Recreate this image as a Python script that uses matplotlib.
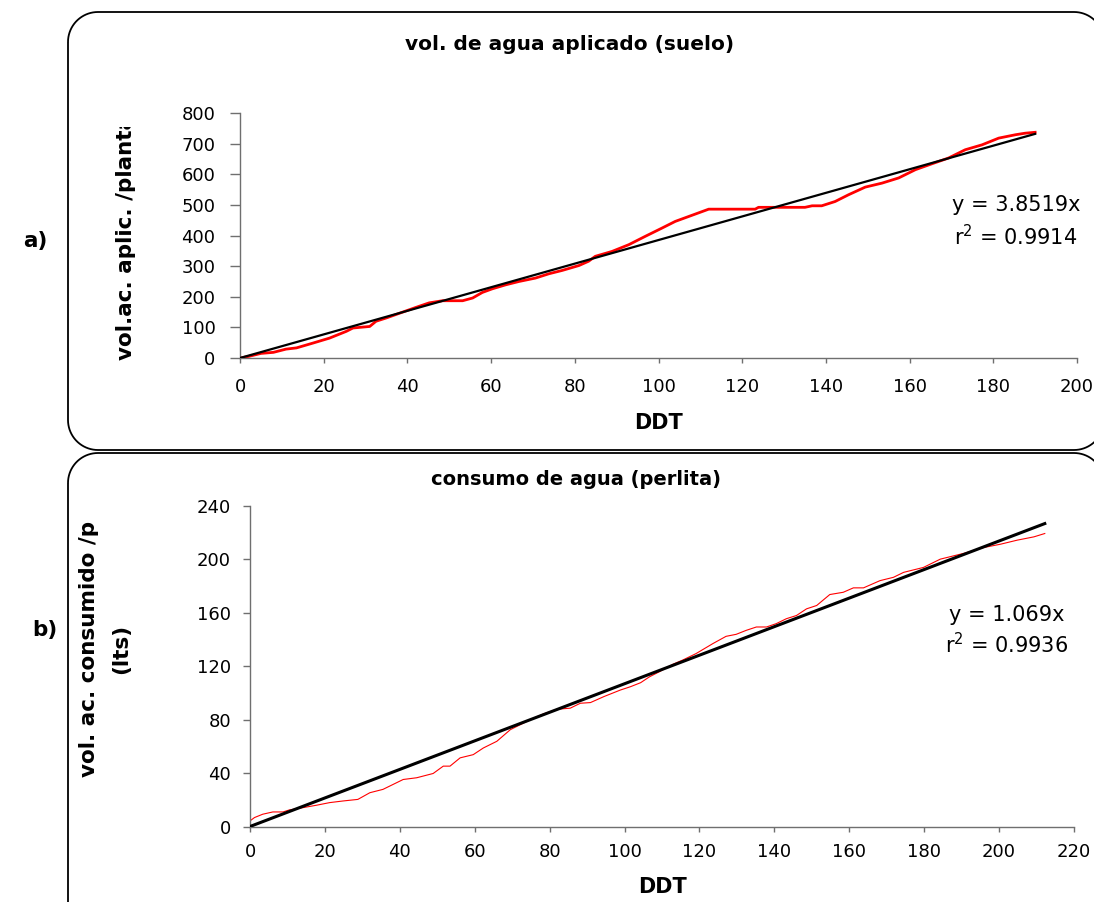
import matplotlib
matplotlib.use("Agg")
import matplotlib.pyplot as plt
from matplotlib.patches import PathPatch
from matplotlib.path import Path
from matplotlib.transforms import Affine2D, Bbox
import numpy as np

# ---- data -------------------------------------------------------------
# a) cumulative water applied per plant (soil), by days after transplant
ddt_suelo = [0, 2, 5, 8, 11, 13.5, 17.5, 21.4, 25.4, 27, 31, 32.5, 35, 38.9, 42,
             45.2, 48.4, 53.2, 55.6, 57.9, 60.3, 63.5, 66.7, 70.6, 73.8, 77, 81,
             83.3, 84.9, 88.9, 92.9, 96.8, 100.8, 104, 107.2, 112, 123.1, 123.9,
             135, 136.7, 139, 142.2, 145.4, 149.4, 153.4, 157.4, 161.4, 165.3,
             169.3, 173.3, 177.3, 181.3, 185.3, 187.6, 190]
vol_suelo = [0, 5, 15, 18.5, 29, 33, 49, 65, 87, 98, 103, 120, 131, 150, 165,
             180, 187, 187, 196, 214, 226, 239, 250, 261, 275, 286, 302,
             316, 332, 348, 370, 397, 424, 446, 462, 486, 486, 492,
             492, 497, 497, 511, 533, 558, 571, 588, 615, 634,
             653, 680, 696, 718, 729, 734, 737]
pend_suelo = 3.8519
r2_suelo = 0.9914

# b) cumulative water consumption per plant (perlite)
ddt_perlita = [0, 1.2, 3.4, 6.1, 8.8, 10.5, 14.1, 17.7, 21.3, 24.8, 28.8, 32.0,
               35.5, 38.2, 40.9, 44.5, 48.9, 51.6, 53.4, 56.1, 59.6, 62.3, 65.9,
               69.5, 73.0, 74.8, 78.4, 82.0, 85.5, 88.2, 90.9, 94.5, 98.9, 101.6,
               104.3, 106.6, 109.3, 112.9, 115.5, 119.1, 123.6, 127.1, 129.8,
               132.5, 135.2, 137.9, 140.5, 143.2, 145.9, 148.6, 151.3, 154.8,
               158.4, 161.1, 163.8, 168.2, 171.8, 174.5, 179.8, 184.3, 190.5,
               195.9, 200.4, 204.8, 209.3, 212.2]
vol_perlita = [4.2, 6.7, 9.2, 10.9, 10.9, 12.4, 14.1, 15.9, 17.9, 19.1, 20.3, 25.3,
               27.8, 31.5, 35.2, 36.5, 39.7, 45.2, 45.2, 51.4, 53.8, 58.8, 63.8,
               72.5, 77.4, 79.9, 84.4, 87.8, 88.6, 92.3, 92.8, 97.3, 102.2, 104.7,
               107.7, 112.0, 115.9, 121.5, 124.6, 129.5, 137.0, 142.4, 143.9,
               146.9, 149.4, 149.4, 151.9, 155.6, 158.0, 163.0, 165.5, 173.7,
               175.4, 178.7, 178.7, 184.1, 186.6, 190.3, 194.0, 200.2, 204.5,
               208.9, 211.4, 214.4, 216.9, 219.4]
pend_perlita = 1.069
r2_perlita = 0.9936

xticks_a = list(range(0, 201, 20))
yticks_a = list(range(0, 801, 100))
xticks_b = list(range(0, 221, 20))
yticks_b = list(range(0, 241, 40))

# ---- figure -----------------------------------------------------------
W, H = 1094, 902
plt.rcParams['font.family'] = ['DejaVu Sans']
fig = plt.figure(figsize=(W / 100, H / 100), dpi=100)

# pixel coordinates measured from the top-left corner
pix = Affine2D().scale(1, -1).translate(0, H)


def ax_rect(left, top, right, bottom):
    return [left / W, 1 - bottom / H, (right - left) / W, (bottom - top) / H]


def rounded_frame(x0, y0, x1, y1, r):
    """Closed outline of a rectangle with circular corners (pixel units)."""
    t = np.linspace(0, np.pi / 2, 20)
    pts = []
    # top-left, top-right, bottom-right, bottom-left corners (y grows downward)
    for cx, cy, a0 in [(x0 + r, y0 + r, np.pi), (x1 - r, y0 + r, 1.5 * np.pi),
                       (x1 - r, y1 - r, 0.0), (x0 + r, y1 - r, 0.5 * np.pi)]:
        a = a0 + t
        pts.extend(zip(cx + r * np.cos(a), cy + r * np.sin(a)))
    pts.append(pts[0])
    return Path(np.array(pts))


def style_axes(ax, ylen, ypad, xpad, fs):
    for s in ('top', 'right'):
        ax.spines[s].set_visible(False)
    for s in ('left', 'bottom'):
        ax.spines[s].set_color('#6f6f6f')
        ax.spines[s].set_linewidth(1.0)
    ax.tick_params(axis='y', direction='out', length=ylen, width=1.0,
                   color='#6f6f6f', pad=ypad, labelsize=fs)
    ax.tick_params(axis='x', direction='out', length=3.6, width=1.0,
                   color='#6f6f6f', pad=xpad, labelsize=fs)


# rounded frames around each chart
for (x0, y0, x1, y1) in [(68, 12, 1104, 450), (68, 453, 1104, 935)]:
    fig.patches.append(PathPatch(rounded_frame(x0, y0, x1, y1, 30),
                                 transform=pix, fill=False, ec='black',
                                 lw=1.3, clip_on=False))

# ---- panel a ----------------------------------------------------------
axa = fig.add_axes(ax_rect(240, 113, 1077, 358))
axa.plot(ddt_suelo, vol_suelo, color='#ff0000', lw=2.0, zorder=2)
xa = np.array([0, ddt_suelo[-1]])
axa.plot(xa, pend_suelo * xa, color='black', lw=1.6, zorder=3)
axa.set_xlim(0, 200)
axa.set_ylim(0, 800)
axa.set_xticks(xticks_a)
axa.set_yticks(yticks_a)
style_axes(axa, 7.2, 10.5, 10.5, 13)
for lbl in axa.get_xticklabels() + axa.get_yticklabels():
    lbl.set_clip_on(False)

fig.text(570 / W, 1 - 45 / H, 'vol. de agua aplicado (suelo)',
         ha='center', va='center', fontsize=14.5, fontweight='bold')
fig.text(658 / W, 1 - 423 / H, 'DDT', ha='center', va='center',
         fontsize=15, fontweight='bold')
ylab_a = fig.text(126 / W, 1 - 360 / H, 'vol.ac. aplic. /planta', rotation=90,
                  ha='center', va='bottom', fontsize=15.5, fontweight='bold')
ylab_a.set_clip_box(Bbox.from_extents(0, 0, W, H - 127))
ylab_a.set_clip_on(True)
fig.text(1016 / W, 1 - 205 / H, f'y = {pend_suelo}x', ha='center', va='center',
         fontsize=15)
fig.text(1016 / W, 1 - 237 / H, f'r$^{{2}}$ = {r2_suelo}', ha='center',
         va='center', fontsize=15)
fig.text(35 / W, 1 - 241 / H, 'a)', ha='center', va='center', fontsize=15.5,
         fontweight='bold')

# ---- panel b ----------------------------------------------------------
axb = fig.add_axes(ax_rect(250, 506, 1074, 826.5))
axb.plot(ddt_perlita, vol_perlita, color='#ff0000', lw=0.8, zorder=2)
xb = np.array([0, ddt_perlita[-1]])
axb.plot(xb, pend_perlita * xb, color='black', lw=2.2, zorder=3)
axb.set_xlim(0, 220)
axb.set_ylim(0, 240)
axb.set_xticks(xticks_b)
axb.set_yticks(yticks_b)
style_axes(axb, 5.2, 8.5, 8.0, 13)

fig.text(576 / W, 1 - 480 / H, 'consumo de agua (perlita)',
         ha='center', va='center', fontsize=14, fontweight='bold')
fig.text(662 / W, 1 - 887 / H, 'DDT', ha='center', va='center',
         fontsize=15, fontweight='bold')
fig.text(105 / W, 1 - 649 / H, 'vol. ac. consumido /p\n(lts)', rotation=90,
         ha='center', va='center', ma='center', fontsize=15.5,
         fontweight='bold', linespacing=1.75)
fig.text(1007 / W, 1 - 615 / H, f'y = {pend_perlita}x', ha='center',
         va='center', fontsize=15)
fig.text(1007 / W, 1 - 645 / H, f'r$^{{2}}$ = {r2_perlita}', ha='center',
         va='center', fontsize=15)
fig.text(45 / W, 1 - 630 / H, 'b)', ha='center', va='center', fontsize=15.5,
         fontweight='bold')

fig.savefig('out.png', dpi=100)
